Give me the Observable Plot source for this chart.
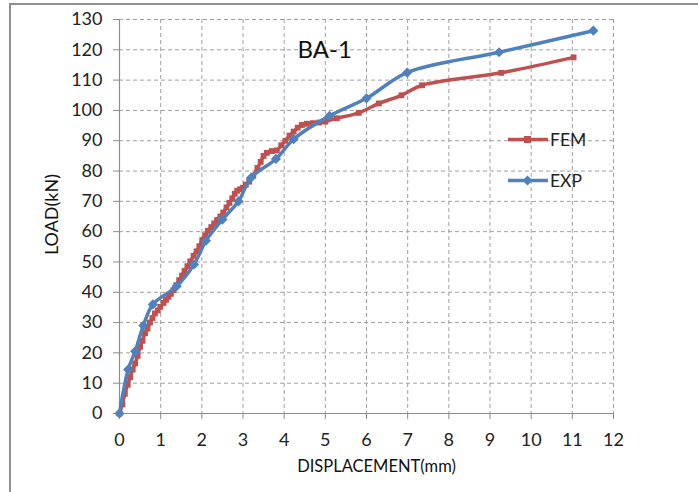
<!DOCTYPE html>
<html>
<head>
<meta charset="utf-8">
<script src="https://cdn.jsdelivr.net/npm/d3@7"></script>
<script src="https://cdn.jsdelivr.net/npm/@observablehq/plot@0.6"></script>
<style>
  html, body { margin: 0; padding: 0; background: #fff; overflow: hidden; }
  #wrap { position: relative; width: 698px; height: 492px; }
  #frame { position: absolute; left: 9px; top: 3px; width: 900px; height: 700px; border: 2px solid #8f8f8f; box-sizing: border-box; }
  #chart { position: absolute; left: 0; top: 0; }
  #legend { position: absolute; left: 0; top: 0; font-family: Lato, "Open Sans", sans-serif; font-size: 17.5px; color: #222; }
  .item { position: absolute; display: flex; align-items: center; }
  .item span { margin-left: 2px; }
</style>
</head>
<body>
<div id="wrap">
  <div id="frame"></div>
  <div id="chart"></div>
  <div id="legend"></div>
</div>
<script>
// ---- data ----
const xTicks = [0, 1, 2, 3, 4, 5, 6, 7, 8, 9, 10, 11, 12];
const yTicks = [0, 10, 20, 30, 40, 50, 60, 70, 80, 90, 100, 110, 120, 130];

const femDisp = [0, 0.07, 0.13, 0.2, 0.26, 0.32, 0.38, 0.44, 0.5, 0.56, 0.62, 0.68, 0.74, 0.8, 0.86, 0.93, 0.99,
  1.07, 1.13, 1.19, 1.25, 1.31, 1.38, 1.45, 1.52, 1.58, 1.65, 1.72, 1.8, 1.87, 1.94, 2.01, 2.08, 2.15, 2.23,
  2.3, 2.37, 2.45, 2.52, 2.6, 2.67, 2.74, 2.8, 2.86, 2.93, 3.0, 3.07, 3.15, 3.25, 3.35, 3.43, 3.5, 3.58, 3.7,
  3.82, 3.93, 4.03, 4.13, 4.23, 4.33, 4.43, 4.55, 4.7, 4.85, 5.0, 5.28, 5.81, 6.3, 6.85, 7.35, 9.27, 11.03];
const femLoad = [0, 3, 6.5, 9.5, 12, 14.5, 16.5, 19, 22, 24, 26.5, 28, 30, 31.5, 33, 34, 35.2,
  36.5, 37.5, 38.5, 39.5, 40.7, 42.3, 44, 45.5, 47, 48.6, 50.2, 52, 53.5, 55.2, 57.2, 58.8, 60.3, 61.5,
  62.7, 63.8, 65, 66.3, 68, 69.5, 71, 72.5, 73.5, 74, 74.5, 75.5, 76.5, 78.5, 81, 83, 85, 86, 86.6,
  86.8, 88.5, 90, 91.7, 93, 94.3, 95.2, 95.6, 95.8, 96, 96.3, 97.4, 99.2, 102.3, 105, 108.3, 112.4, 117.5];

const expDisp = [0, 0.21, 0.38, 0.58, 0.81, 1.39, 1.81, 2.1, 2.5, 2.89, 3.19, 3.8, 4.23, 5.1, 6.0, 6.99, 9.22, 11.51];
const expLoad = [0, 14.5, 20.5, 29, 36, 42, 49.2, 57, 64, 70, 77.7, 84, 90.5, 98.2, 104, 112.5, 119.2, 126.3];

const seriesNames = ["FEM", "EXP"];
const seriesColors = ["#C0504D", "#4F81BD"];
const chartTitle = "BA-1";
const xLabel = "DISPLACEMENT(mm)";
const yLabel = "LOAD(kN)";

const fem = femDisp.map((d, i) => ({x: d, y: femLoad[i]}));
const exp = expDisp.map((d, i) => ({x: d, y: expLoad[i]}));

const gridStyle = {stroke: "#a0a0a0", strokeOpacity: 1, strokeWidth: 1, strokeDasharray: "4,3"};

const chart = Plot.plot({
  width: 698,
  height: 492,
  marginLeft: 119,
  marginRight: 85,
  marginTop: 19,
  marginBottom: 79,
  x: {domain: [0, 12]},
  y: {domain: [0, 130]},
  style: {fontFamily: "Lato, 'Open Sans', sans-serif", fontSize: "18px", color: "#222", background: "transparent"},
  marks: [
    Plot.gridX(xTicks.slice(1), gridStyle),
    Plot.gridY(yTicks.slice(1), gridStyle),
    Plot.ruleX([0], {stroke: "#8c8c8c", strokeWidth: 1.2}),
    Plot.ruleY([0], {stroke: "#8c8c8c", strokeWidth: 1.2}),
    Plot.axisX({ticks: xTicks, tickSize: 6, tickPadding: 14, stroke: "#8c8c8c", strokeOpacity: 1, label: null, fontSize: 18}),
    Plot.axisY({ticks: yTicks, tickSize: 6, tickPadding: 11, stroke: "#8c8c8c", strokeOpacity: 1, label: null, fontSize: 18}),
    Plot.line(fem, {x: "x", y: "y", stroke: seriesColors[0], strokeWidth: 3.5, curve: "catmull-rom"}),
    Plot.dot(fem, {x: "x", y: "y", symbol: "square", r: 3.3, fill: seriesColors[0], stroke: "none"}),
    Plot.line(exp, {x: "x", y: "y", stroke: seriesColors[1], strokeWidth: 3.5, curve: "catmull-rom"}),
    Plot.dot(exp, {x: "x", y: "y", symbol: "diamond2", r: 4.6, fill: seriesColors[1], stroke: "none"}),
    Plot.text([chartTitle], {frameAnchor: "top-left", dx: 178, dy: 21, fontSize: 24, fill: "#111"}),
    Plot.text([xLabel], {frameAnchor: "bottom", dx: 10, dy: 58, fontSize: 16.5, fill: "#111"}),
    Plot.text([yLabel], {frameAnchor: "left", textAnchor: "middle", dx: -67, dy: -2, rotate: -90, fontSize: 18, fill: "#111"})
  ]
});
document.getElementById("chart").appendChild(chart);

// legend overlay
const legend = document.getElementById("legend");
const legendPos = [{left: 508, top: 139}, {left: 508, top: 180}];
seriesNames.forEach((name, i) => {
  const item = document.createElement("div");
  item.className = "item";
  item.style.left = legendPos[i].left + "px";
  item.style.top = (legendPos[i].top - 10) + "px";
  item.style.height = "20px";
  const marker = i === 0
    ? `<rect x="16" y="4" width="7" height="7" fill="${seriesColors[i]}"/>`
    : `<path d="M19.5,2.5 L24.5,7.5 L19.5,12.5 L14.5,7.5 Z" fill="${seriesColors[i]}"/>`;
  item.innerHTML = `<svg width="40" height="15" style="display:block"><line x1="0" x2="40" y1="7.5" y2="7.5" stroke="${seriesColors[i]}" stroke-width="3.5"/>${marker}</svg><span>${name}</span>`;
  legend.appendChild(item);
});
</script>
</body>
</html>
